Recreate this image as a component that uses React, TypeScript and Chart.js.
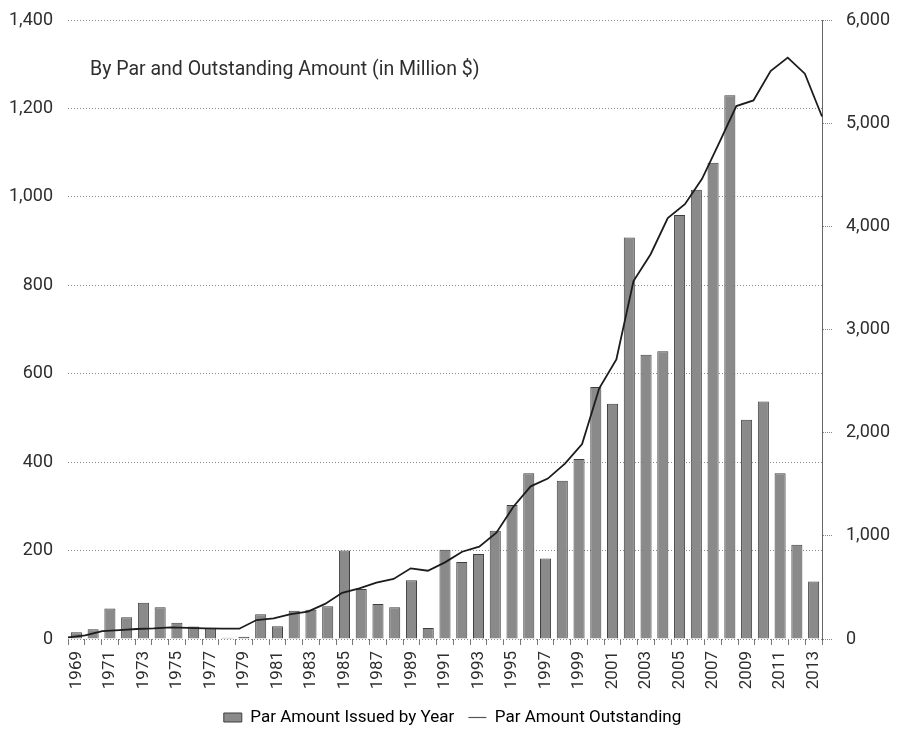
import React, { useEffect, useRef } from 'react';
import { Chart, registerables } from 'chart.js';

Chart.register(...registerables);

const FONT = 'Roboto, "Noto Sans", "DejaVu Sans", sans-serif';

const years = [
  '1969', '1970', '1971', '1972', '1973', '1974', '1975', '1976', '1977', '1978',
  '1979', '1980', '1981', '1982', '1983', '1984', '1985', '1986', '1987', '1988',
  '1989', '1990', '1991', '1992', '1993', '1994', '1995', '1996', '1997', '1998',
  '1999', '2000', '2001', '2002', '2003', '2004', '2005', '2006', '2007', '2008',
  '2009', '2010', '2011', '2012', '2013',
];

// Par Amount Issued by Year (left axis, million $)
const issuedByYear = [
  15, 22, 69, 49, 82, 72, 37, 28, 24, 3,
  5, 56, 29, 64, 66, 74, 200, 113, 79, 72,
  133, 25, 202, 174, 192, 245, 303, 375, 182, 358,
  407, 570, 532, 908, 643, 651, 959, 1016, 1077, 1230,
  496, 537, 375, 213, 130,
];

// Par Amount Outstanding (right axis, million $)
const outstanding = [
  15, 35, 77, 87, 97, 103, 113, 107, 103, 100,
  100, 184, 200, 242, 265, 340, 448, 491, 546, 582,
  685, 662, 743, 846, 895, 1030, 1285, 1480, 1555, 1700,
  1890, 2430, 2710, 3470, 3730, 4080, 4215, 4460, 4810, 5166,
  5220, 5505, 5635, 5480, 5065,
];

const leftMax = 1400;
const leftStep = 200;
const rightMax = 6000;
const rightStep = 1000;

const TITLE = 'By Par and Outstanding Amount (in Million $)';
const LEGEND_BAR = 'Par Amount Issued by Year';
const LEGEND_LINE = 'Par Amount Outstanding';

const BAR_FILL = '#8a8a8a';
const BAR_EDGE = '#3f3f3f';
const LINE_COLOR = '#1c1c1c';
const TEXT = '#2e2e2e';

const fmt = (v: number) => Number(v).toLocaleString('en-US');

const noPad = (s: any) => {
  s.paddingTop = 0;
  s.paddingBottom = 0;
  s.paddingLeft = 0;
  s.paddingRight = 0;
};

const innerTitle = {
  id: 'innerTitle',
  afterDatasetsDraw(chart: any) {
    const { ctx, chartArea } = chart;
    ctx.save();
    ctx.font = `19.5px ${FONT}`;
    ctx.fillStyle = TEXT;
    ctx.textBaseline = 'middle';
    ctx.textAlign = 'left';
    ctx.fillText(TITLE, chartArea.left + 22, chartArea.top + 50);
    ctx.restore();
  },
};

export default function App() {
  const ref = useRef<HTMLCanvasElement | null>(null);

  useEffect(() => {
    if (!ref.current) return;
    const chart = new Chart(ref.current, {
      type: 'bar',
      data: {
        labels: years,
        datasets: [
          {
            type: 'bar',
            label: LEGEND_BAR,
            data: issuedByYear,
            backgroundColor: BAR_FILL,
            borderColor: BAR_EDGE,
            borderWidth: 1,
            barPercentage: 0.66,
            categoryPercentage: 1,
            grouped: false,
            xAxisID: 'x',
            yAxisID: 'y',
            order: 1,
          } as any,
          {
            type: 'line',
            label: LEGEND_LINE,
            data: outstanding,
            borderColor: LINE_COLOR,
            backgroundColor: LINE_COLOR,
            borderWidth: 1.8,
            pointRadius: 0,
            tension: 0,
            fill: false,
            xAxisID: 'x2',
            yAxisID: 'y2',
            order: 0,
          } as any,
        ],
      },
      options: {
        responsive: false,
        animation: false,
        layout: { padding: { top: 20, left: 0, right: 0, bottom: 2 } },
        plugins: {
          tooltip: { enabled: false },
          title: { display: false },
          legend: {
            position: 'bottom',
            labels: {
              usePointStyle: true,
              pointStyleWidth: 18,
              boxHeight: 9,
              padding: 10,
              color: '#444',
              font: { size: 17, family: FONT },
              generateLabels: () => [
                {
                  text: LEGEND_BAR + ' ',
                  fillStyle: BAR_FILL,
                  strokeStyle: BAR_EDGE,
                  lineWidth: 1,
                  pointStyle: 'rect',
                  datasetIndex: 0,
                  hidden: false,
                },
                {
                  text: LEGEND_LINE,
                  fillStyle: LINE_COLOR,
                  strokeStyle: '#555',
                  lineWidth: 1.2,
                  pointStyle: 'line',
                  datasetIndex: 1,
                  hidden: false,
                },
              ],
            },
          },
        },
        scales: {
          x: {
            type: 'category',
            offset: true,
            border: { display: false },
            grid: {
              drawOnChartArea: false,
              drawTicks: true,
              tickLength: 6,
              tickColor: '#777',
              offset: true,
            },
            ticks: {
              autoSkip: false,
              maxRotation: 90,
              minRotation: 90,
              padding: 6,
              color: TEXT,
              font: { size: 17, family: FONT },
              callback(this: any, v: any, i: number) {
                return i % 2 === 0 ? this.getLabelForValue(v) : '';
              },
            },
            afterFit: (s: any) => {
              s.height = 60;
              noPad(s);
            },
          },
          x2: {
            type: 'category',
            offset: false,
            display: false,
          },
          y: {
            position: 'left',
            min: 0,
            max: leftMax,
            border: { display: false, dash: [1, 2] },
            grid: { color: '#8a8a8a', drawTicks: false, lineWidth: 1 },
            ticks: {
              stepSize: leftStep,
              padding: 15,
              color: TEXT,
              font: { size: 18, family: FONT },
              callback: (v: any) => fmt(v),
            },
            afterFit: (s: any) => {
              s.width = 68;
              noPad(s);
            },
          },
          y2: {
            position: 'right',
            min: 0,
            max: rightMax,
            border: { display: true, color: '#666', width: 1 },
            grid: {
              drawOnChartArea: false,
              drawTicks: true,
              tickLength: 10,
              tickColor: '#888',
              tickBorderDash: [1, 1],
            },
            ticks: {
              stepSize: rightStep,
              padding: 14,
              color: TEXT,
              font: { size: 18, family: FONT },
              callback: (v: any) => fmt(v),
            },
            afterFit: (s: any) => {
              s.width = 83;
              noPad(s);
            },
          },
        },
      } as any,
      plugins: [innerTitle],
    });
    return () => chart.destroy();
  }, []);

  return (
    <div style={{ position: 'absolute', left: 0, top: 0, width: 905, height: 738, background: '#fff' }}>
      <canvas ref={ref} width={905} height={738} style={{ display: 'block' }} />
    </div>
  );
}
